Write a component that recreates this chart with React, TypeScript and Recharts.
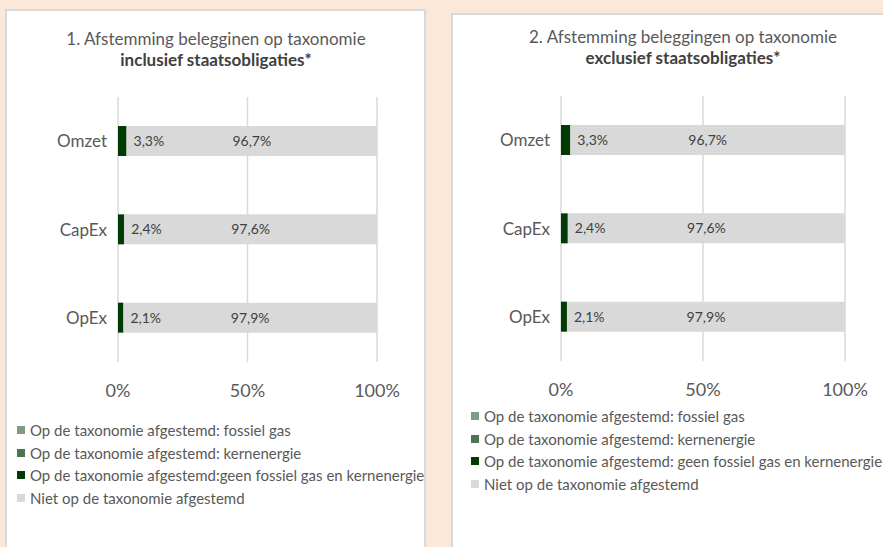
import { Bar, BarChart, CartesianGrid, LabelList, Legend, XAxis, YAxis } from "recharts";

const categories = ["Omzet", "CapEx", "OpEx"];

// chart 1: inclusief staatsobligaties
const inclFossielGas = [0, 0, 0];
const inclKernenergie = [0, 0, 0];
const inclGeenFossielKern = [3.3, 2.4, 2.1];
const inclNietAfgestemd = [96.7, 97.6, 97.9];

// chart 2: exclusief staatsobligaties
const exclFossielGas = [0, 0, 0];
const exclKernenergie = [0, 0, 0];
const exclGeenFossielKern = [3.3, 2.4, 2.1];
const exclNietAfgestemd = [96.7, 97.6, 97.9];

const xTicks = [0, 50, 100];
const bandTicks = [0, 1, 2, 3];

const namesIncl = [
  "Op de taxonomie afgestemd: fossiel gas",
  "Op de taxonomie afgestemd: kernenergie",
  "Op de taxonomie afgestemd:geen fossiel gas en kernenergie",
  "Niet op de taxonomie afgestemd",
];
const namesExcl = [
  "Op de taxonomie afgestemd: fossiel gas",
  "Op de taxonomie afgestemd: kernenergie",
  "Op de taxonomie afgestemd: geen fossiel gas en kernenergie",
  "Niet op de taxonomie afgestemd",
];

const colors = ["#7F9C84", "#4C7652", "#023A05", "#D9D9D9"];
const FONT = "Lato, 'Open Sans', sans-serif";
const GRID = "#D9D9D9";

const pct = (v: number) => `${v.toFixed(1).replace(".", ",")}%`;

function buildRows(a: number[], b: number[], c: number[], d: number[]) {
  return categories.map((name, i) => ({ name, fossiel: a[i], kern: b[i], geen: c[i], niet: d[i] }));
}

const GreenLabel = (props: any) => {
  const { x, y, width, height, value } = props;
  return (
    <text x={x + width + 7} y={y + height / 2} dy={5} fill="#404040" fontSize={14} fontFamily={FONT}>
      {pct(value)}
    </text>
  );
};

const GreyLabel = (props: any) => {
  const { x, y, width, height, value } = props;
  return (
    <text x={x + width / 2} y={y + height / 2} dy={5} textAnchor="middle" fill="#404040" fontSize={14} fontFamily={FONT}>
      {pct(value)}
    </text>
  );
};

// keep the legend in series order (recharts sorts it by name otherwise)
const LegendBox = (props: any) => {
  const order: string[] = props.order || [];
  const items = [...(props.payload || [])].sort((a: any, b: any) => order.indexOf(a.value) - order.indexOf(b.value));
  return (
    <div style={{ height: 92, fontFamily: FONT }}>
      {items.map((item: any) => (
        <div key={item.value} style={{ display: "flex", alignItems: "center", height: 22.5 }}>
          <span style={{ width: 8, height: 8, background: item.color, marginRight: 5, flex: "none" }} />
          <span style={{ fontSize: 15, color: "#595959", whiteSpace: "nowrap" }}>{item.value}</span>
        </div>
      ))}
    </div>
  );
};

type PanelProps = {
  left: number;
  top: number;
  width: number;
  chartWidth: number;
  margin: { top: number; right: number; bottom: number; left: number };
  legendLeft: number;
  legendTop: number;
  titleCenter: number;
  titleTop: number;
  title: string;
  subtitle: string;
  rows: any[];
  names: string[];
};

function Panel(p: PanelProps) {
  return (
    <div
      style={{
        position: "absolute",
        left: p.left,
        top: p.top,
        width: p.width,
        height: 560,
        background: "#FFFFFF",
        border: "2px solid #D9D9D9",
      }}
    >
      <div
        style={{
          position: "absolute",
          left: p.titleCenter - 200,
          top: p.titleTop,
          width: 400,
          textAlign: "center",
          fontFamily: FONT,
          fontSize: 17,
          lineHeight: "21px",
          color: "#595959",
        }}
      >
        <div>{p.title}</div>
        <div style={{ fontWeight: 700, color: "#404040" }}>{p.subtitle}</div>
      </div>
      <BarChart width={p.chartWidth} height={540} data={p.rows} layout="vertical" margin={p.margin}>
        <CartesianGrid horizontal={false} stroke={GRID} strokeWidth={1.5} />
        <XAxis
          type="number"
          domain={[0, 100]}
          ticks={xTicks}
          tickFormatter={(v: number) => `${v}%`}
          axisLine={false}
          tickLine={false}
          tickMargin={16}
          height={40}
          tick={{ fill: "#595959", fontSize: 18, fontFamily: FONT }}
        />
        <YAxis
          yAxisId="band"
          type="number"
          domain={[0, 3]}
          ticks={bandTicks}
          width={0}
          tick={false}
          tickSize={6}
          axisLine={{ stroke: GRID, strokeWidth: 1.5 }}
          tickLine={{ stroke: GRID, strokeWidth: 1.5 }}
        />
        <YAxis
          yAxisId="cat"
          type="category"
          dataKey="name"
          width={100}
          axisLine={false}
          tickLine={false}
          tickSize={0}
          tickMargin={11}
          tick={{ fill: "#595959", fontSize: 17, fontFamily: FONT }}
        />
        <Legend
          verticalAlign="bottom"
          content={<LegendBox order={p.names} />}
          wrapperStyle={{ left: p.legendLeft, top: p.legendTop, bottom: "auto", width: 440 }}
        />
        <Bar yAxisId="cat" dataKey="fossiel" name={p.names[0]} stackId="s" fill={colors[0]} barSize={30} isAnimationActive={false} />
        <Bar yAxisId="cat" dataKey="kern" name={p.names[1]} stackId="s" fill={colors[1]} barSize={30} isAnimationActive={false} />
        <Bar yAxisId="cat" dataKey="geen" name={p.names[2]} stackId="s" fill={colors[2]} barSize={30} isAnimationActive={false}>
          <LabelList dataKey="geen" content={<GreenLabel />} />
        </Bar>
        <Bar yAxisId="cat" dataKey="niet" name={p.names[3]} stackId="s" fill={colors[3]} barSize={30} isAnimationActive={false}>
          <LabelList dataKey="niet" content={<GreyLabel />} />
        </Bar>
      </BarChart>
    </div>
  );
}

export default function App() {
  return (
    <div
      style={{
        position: "absolute",
        left: 0,
        top: 0,
        width: 883,
        height: 547,
        overflow: "hidden",
        background: "#FBE8D8",
      }}
    >
      <Panel
        left={5}
        top={9}
        width={417}
        chartWidth={417}
        margin={{ top: 86, right: 47, bottom: 57, left: 11 }}
        legendLeft={10}
        legendTop={408}
        titleCenter={209}
        titleTop={17}
        title="1. Afstemming belegginen op taxonomie"
        subtitle="inclusief staatsobligaties*"
        rows={buildRows(inclFossielGas, inclKernenergie, inclGeenFossielKern, inclNietAfgestemd)}
        names={namesIncl}
      />
      <Panel
        left={451}
        top={13}
        width={460}
        chartWidth={440}
        margin={{ top: 81, right: 48, bottom: 62, left: 8 }}
        legendLeft={18}
        legendTop={390}
        titleCenter={230}
        titleTop={11}
        title="2. Afstemming beleggingen op taxonomie"
        subtitle="exclusief staatsobligaties*"
        rows={buildRows(exclFossielGas, exclKernenergie, exclGeenFossielKern, exclNietAfgestemd)}
        names={namesExcl}
      />
    </div>
  );
}
